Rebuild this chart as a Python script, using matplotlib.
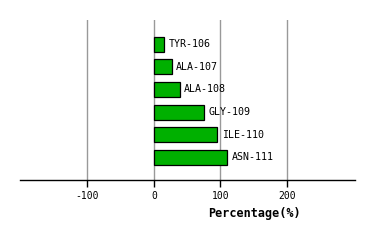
import matplotlib
matplotlib.use("Agg")
import matplotlib.pyplot as plt

# Data
residues = ["ASN-111", "ILE-110", "GLY-109", "ALA-108", "ALA-107", "TYR-106"]
percent = [110.5, 95.5, 75.5, 38.5, 26.5, 15.5]
xticks = [-100, 0, 100, 200]
xtick_labels = ["-100", "0", "100", "200"]

plt.rcParams["font.family"] = "DejaVu Sans Mono"
plt.rcParams["axes.unicode_minus"] = False

fig = plt.figure(figsize=(3.74, 2.40), dpi=100)
ax = fig.add_axes([20 / 374, 60 / 240, 335 / 374, 160 / 240])

ypos = list(range(len(residues)))
ax.barh(ypos, percent, height=0.66, color="#00b000", edgecolor="black",
        linewidth=0.9, zorder=3)

for y, v, name in zip(ypos, percent, residues):
    ax.annotate(name, (v, y), xytext=(3.2, 0), textcoords="offset points",
                ha="left", va="center", fontsize=7.2, color="black")

ax.set_xlim(-201, 302)
ax.set_ylim(-1, 6.07)
ax.set_xticks(xticks)
ax.set_xticklabels(xtick_labels, fontsize=7)
ax.set_yticks([])
for x in xticks:
    ax.axvline(x, color="#999999", linewidth=1.0, zorder=1)

for s in ["left", "right", "top"]:
    ax.spines[s].set_visible(False)
ax.spines["bottom"].set_linewidth(1.0)
ax.tick_params(axis="x", direction="out", length=5, width=1.0, pad=3)

ax.set_xlabel("Percentage(%)", fontsize=8.5, fontweight="bold", va="center")
ax.xaxis.set_label_coords((254.5 - 20) / 335, -0.2125)

fig.savefig("out.png", dpi=100)
